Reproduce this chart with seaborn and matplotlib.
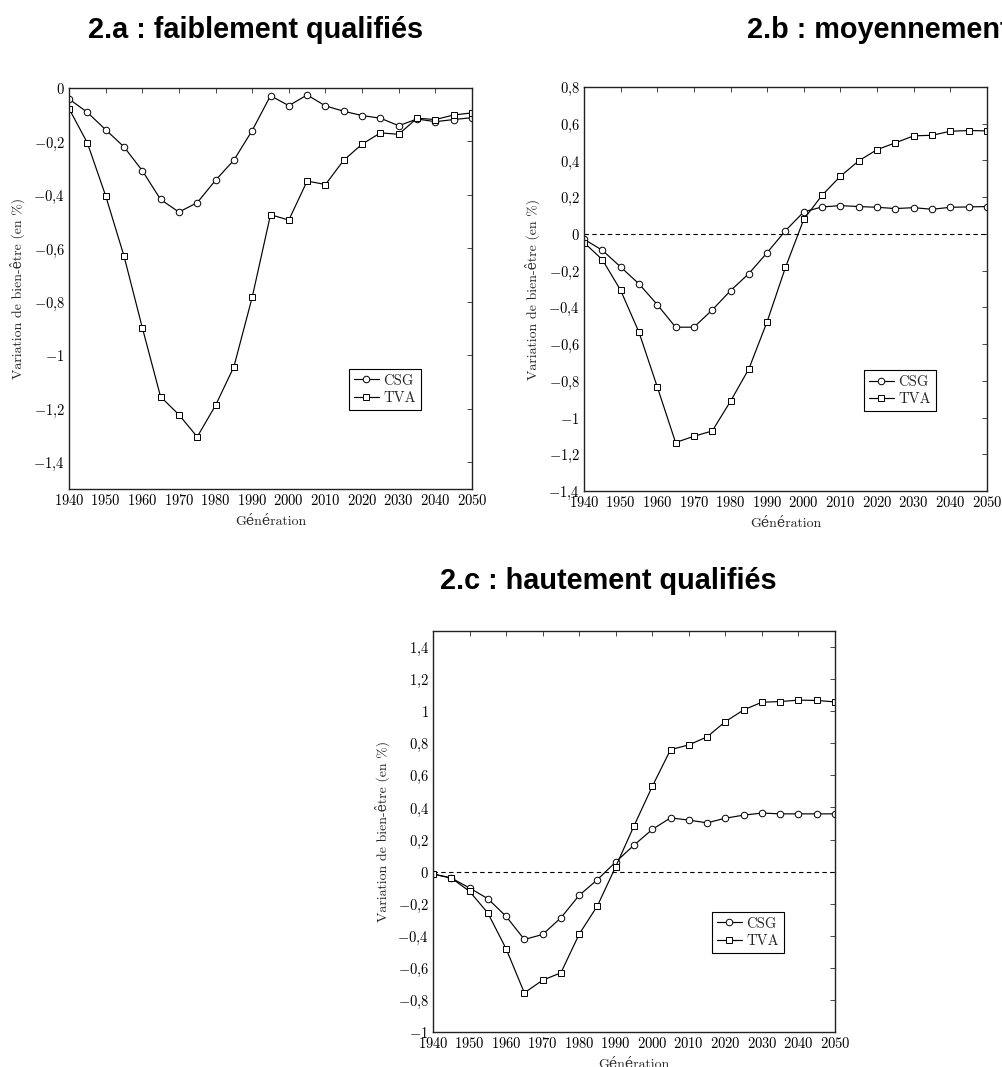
import numpy as np
import pandas as pd
import seaborn as sns
import matplotlib.pyplot as plt
from matplotlib.ticker import FuncFormatter, MultipleLocator

# Data (generations 1940-2050, step 5)
years = list(range(1940, 2051, 5))

csg_a = [-0.041, -0.091, -0.156, -0.220, -0.309, -0.417, -0.464, -0.429, -0.345, -0.270,
         -0.159, -0.029, -0.066, -0.026, -0.067, -0.087, -0.103, -0.113, -0.141, -0.116,
         -0.126, -0.118, -0.111]
tva_a = [-0.077, -0.205, -0.403, -0.628, -0.896, -1.155, -1.222, -1.305, -1.187, -1.043,
         -0.783, -0.474, -0.494, -0.348, -0.361, -0.270, -0.210, -0.168, -0.173, -0.113,
         -0.118, -0.101, -0.093]

csg_b = [-0.029, -0.089, -0.180, -0.272, -0.385, -0.508, -0.508, -0.414, -0.309, -0.216,
         -0.102, 0.018, 0.120, 0.147, 0.154, 0.149, 0.145, 0.138, 0.143, 0.134,
         0.145, 0.147, 0.149]
tva_b = [-0.047, -0.140, -0.307, -0.535, -0.833, -1.136, -1.102, -1.073, -0.911, -0.735,
         -0.477, -0.182, 0.080, 0.211, 0.314, 0.398, 0.459, 0.496, 0.534, 0.537,
         0.559, 0.563, 0.561]

csg_c = [-0.015, -0.040, -0.102, -0.169, -0.279, -0.423, -0.392, -0.288, -0.148, -0.050,
         0.060, 0.165, 0.263, 0.335, 0.321, 0.304, 0.333, 0.352, 0.365, 0.360,
         0.360, 0.360, 0.360]
tva_c = [-0.015, -0.040, -0.123, -0.258, -0.481, -0.756, -0.677, -0.631, -0.390, -0.213,
         0.031, 0.285, 0.531, 0.760, 0.790, 0.840, 0.935, 1.008, 1.056, 1.060,
         1.069, 1.067, 1.058]

titles = ['2.a : faiblement qualifiés', '2.b : moyennement qualifiés', '2.c : hautement qualifiés']
ylims = [(-1.5, 0), (-1.4, 0.8), (-1.0, 1.5)]

sns.set_style('white')
plt.rcParams['font.family'] = ['cmr10', 'DejaVu Serif']
plt.rcParams['mathtext.fontset'] = 'cm'
plt.rcParams['axes.unicode_minus'] = True

fig = plt.figure(figsize=(10.03, 10.67), dpi=100)
W, H = 1003, 1067
# axes boxes in pixels: left, top, right, bottom
boxes = [(69, 88, 472, 489), (584, 87, 987, 491), (433, 631, 835, 1032)]


def fmt(v, pos):
    s = ('%.1f' % v).rstrip('0').rstrip('.')
    if s in ('-0', ''):
        s = '0'
    s = s.replace('.', '{,}')
    return '$' + s + '$'


panels = [(csg_a, tva_a, False), (csg_b, tva_b, True), (csg_c, tva_c, True)]
for i, (csg, tva, zero) in enumerate(panels):
    l, t, r, b = boxes[i]
    ax = fig.add_axes([l / W, 1 - b / H, (r - l) / W, (b - t) / H])
    df = pd.DataFrame({'year': years, 'CSG': csg, 'TVA': tva})
    if zero:
        ax.axhline(0, color='black', lw=0.8, ls=(0, (4, 3)), zorder=1)
    sns.lineplot(data=df, x='year', y='CSG', ax=ax, color='black', lw=0.85,
                 marker='o', markersize=4.7, markerfacecolor='white',
                 markeredgecolor='black', markeredgewidth=0.7, label='CSG')
    sns.lineplot(data=df, x='year', y='TVA', ax=ax, color='black', lw=0.85,
                 marker='s', markersize=4.5, markerfacecolor='white',
                 markeredgecolor='black', markeredgewidth=0.7, label='TVA')
    ax.set_xlim(1940, 2050)
    ax.set_ylim(*ylims[i])
    ax.xaxis.set_major_locator(MultipleLocator(10))
    ax.yaxis.set_major_locator(MultipleLocator(0.2))
    ax.xaxis.set_major_formatter(FuncFormatter(lambda v, p: '$%d$' % round(v)))
    ax.yaxis.set_major_formatter(FuncFormatter(fmt))
    ax.tick_params(direction='in', length=3.5, width=0.5, top=True, right=True,
                   labelsize=10.5, pad=3, colors='black')
    for sp in ax.spines.values():
        sp.set_visible(True)
        sp.set_linewidth(1.0)
        sp.set_color('#222222')
    ax.set_xlabel('Génération', fontsize=10)
    ax.set_ylabel('Variation de bien-être (en %)', fontsize=10)
    ax.xaxis.set_label_coords(0.5, -0.066)
    ax.yaxis.set_label_coords(-0.108, 0.5)
    leg = ax.legend(loc='upper right', bbox_to_anchor=(0.873, 0.30), fontsize=10.5,
                    frameon=True, fancybox=False, framealpha=1, edgecolor='black',
                    handlelength=1.7, handletextpad=0.3, borderpad=0.35,
                    labelspacing=0.25, borderaxespad=0)
    leg.get_frame().set_linewidth(0.8)

tfont = dict(family='Liberation Sans', weight='bold', fontsize=20.8, color='black')
fig.text(88 / W, 1 - 38 / H, titles[0], ha='left', va='baseline', **tfont)
fig.text(747 / W, 1 - 38 / H, titles[1], ha='left', va='baseline', **tfont)
fig.text(440 / W, 1 - 589 / H, titles[2], ha='left', va='baseline', **tfont)

fig.savefig('out.png', dpi=100)
